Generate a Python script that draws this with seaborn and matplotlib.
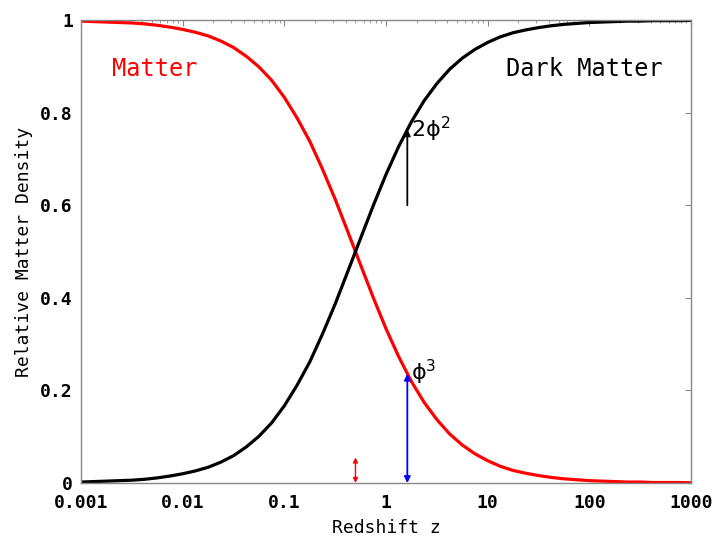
import numpy as np
import pandas as pd
import matplotlib
matplotlib.use("Agg")
import matplotlib.pyplot as plt
import seaborn as sns

# values
redshift = [0.001, 0.00133, 0.00178, 0.00237, 0.00316, 0.00422, 0.00562, 0.0075,
            0.01, 0.0133, 0.0178, 0.0237, 0.0316, 0.0422, 0.0562, 0.075,
            0.1, 0.133, 0.178, 0.237, 0.316, 0.422, 0.562, 0.75,
            1.0, 1.33, 1.78, 2.37, 3.16, 4.22, 5.62, 7.5,
            10.0, 13.3, 17.8, 23.7, 31.6, 42.2, 56.2, 75.0,
            100.0, 133.0, 178.0, 237.0, 316.0, 422.0, 562.0, 750.0, 1000.0]
matter = [0.998, 0.997, 0.996, 0.995, 0.994, 0.992, 0.989, 0.985,
          0.980, 0.974, 0.966, 0.955, 0.941, 0.922, 0.899, 0.870,
          0.833, 0.789, 0.738, 0.678, 0.613, 0.542, 0.471, 0.400,
          0.333, 0.273, 0.219, 0.174, 0.137, 0.106, 0.082, 0.063,
          0.048, 0.036, 0.027, 0.021, 0.016, 0.012, 0.009, 0.007,
          0.005, 0.004, 0.003, 0.002, 0.002, 0.001, 0.001, 0.001, 0.0005]
dark_matter = [0.002, 0.003, 0.004, 0.005, 0.006, 0.008, 0.011, 0.015,
               0.020, 0.026, 0.034, 0.045, 0.059, 0.078, 0.101, 0.130,
               0.167, 0.211, 0.262, 0.322, 0.387, 0.458, 0.529, 0.600,
               0.667, 0.727, 0.781, 0.826, 0.863, 0.894, 0.918, 0.937,
               0.952, 0.964, 0.973, 0.979, 0.984, 0.988, 0.991, 0.993,
               0.995, 0.996, 0.997, 0.998, 0.998, 0.999, 0.999, 0.999, 0.9995]

z_phi = 1.618
z_half = 0.5
dark_arrow = (0.6, 0.764)
phi3_arrow = (0.0, 0.236)
half_arrow = (0.0, 0.055)

x_ticks = [0.001, 0.01, 0.1, 1, 10, 100, 1000]
x_labels = ["0.001", "0.01", "0.1", "1", "10", "100", "1000"]
y_ticks = [0, 0.2, 0.4, 0.6, 0.8, 1.0]
y_labels = ["0", "0.2", "0.4", "0.6", "0.8", "1"]

df = pd.DataFrame({"z": redshift, "Matter": matter, "Dark Matter": dark_matter})

sns.set_style("white")
plt.rcParams["font.family"] = ["DejaVu Sans Mono", "DejaVu Sans"]
plt.rcParams["text.color"] = "black"
plt.rcParams["axes.labelcolor"] = "black"
plt.rcParams["xtick.labelcolor"] = "black"
plt.rcParams["ytick.labelcolor"] = "black"

fig = plt.figure(figsize=(7.24, 5.4), dpi=100)
ax = fig.add_axes([0.112, 0.1056, 0.8425, 0.857])

sns.lineplot(data=df, x="z", y="Matter", color="#ff0000", linewidth=2.3, ax=ax)
sns.lineplot(data=df, x="z", y="Dark Matter", color="black", linewidth=2.3, ax=ax)

ax.set_xscale("log")
ax.set_xlim(0.001, 1000)
ax.set_ylim(0, 1)

# arrows
ax.annotate("", xy=(z_phi, dark_arrow[1]), xytext=(z_phi, dark_arrow[0]),
            arrowprops=dict(arrowstyle="-|>", color="black", lw=1.3,
                            mutation_scale=9, shrinkA=0, shrinkB=0))
ax.annotate("", xy=(z_phi, phi3_arrow[1]), xytext=(z_phi, phi3_arrow[0]),
            arrowprops=dict(arrowstyle="<|-|>", color="#0000ff", lw=1.3,
                            mutation_scale=9, shrinkA=0, shrinkB=0))
ax.annotate("", xy=(z_half, half_arrow[1]), xytext=(z_half, half_arrow[0]),
            arrowprops=dict(arrowstyle="<|-|>", color="#ff0000", lw=1.0,
                            mutation_scale=7, shrinkA=0, shrinkB=0))

# labels
ax.text(0.0053, 0.895, "Matter", color="#ff0000", fontsize=17,
        ha="center", va="center")
ax.text(90, 0.895, "Dark Matter", color="black", fontsize=17,
        ha="center", va="center")
ax.text(1.75, 0.763, r"2$\mathregular{\phi}^{2}$", fontsize=16,
        family=["DejaVu Sans"], ha="left", va="center")
ax.text(1.74, 0.238, r"$\mathregular{\phi}^{3}$", fontsize=16,
        family=["DejaVu Sans"], ha="left", va="center")

ax.set_xticks(x_ticks)
ax.set_xticklabels(x_labels)
ax.set_yticks(y_ticks)
ax.set_yticklabels(y_labels)
for lab in ax.get_xticklabels() + ax.get_yticklabels():
    lab.set_fontweight("bold")
    lab.set_fontsize(13)

ax.set_xlabel("Redshift z", fontsize=13, labelpad=5)
ax.set_ylabel("Relative Matter Density", fontsize=13, labelpad=5)

for s in ax.spines.values():
    s.set_color("#888888")
    s.set_linewidth(1.0)
ax.tick_params(which="both", direction="in", top=True, right=True,
               color="#888888")
ax.tick_params(which="major", length=4, pad=6)
ax.tick_params(axis="x", which="major", pad=8)
ax.tick_params(which="minor", length=2.5)
ax.xaxis.set_minor_locator(matplotlib.ticker.LogLocator(base=10, subs=np.arange(2, 10)))
ax.xaxis.set_minor_formatter(matplotlib.ticker.NullFormatter())

fig.savefig("out.png", dpi=100)
